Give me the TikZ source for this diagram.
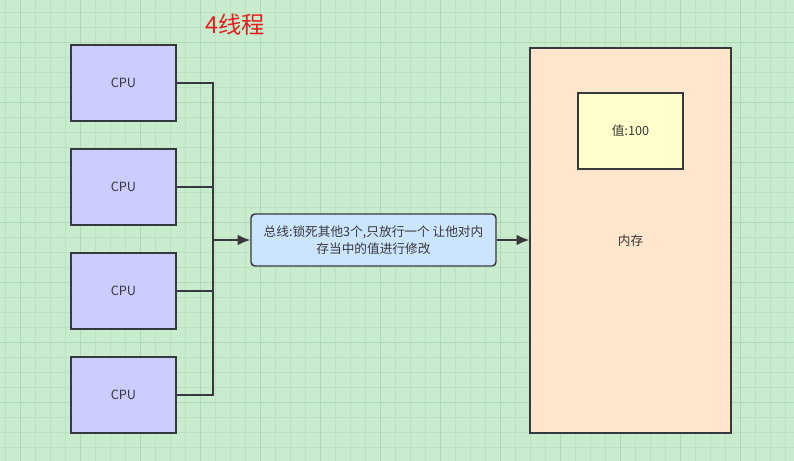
\documentclass[tikz,border=0pt]{standalone}
\usepackage{fontspec}
\setmainfont{Noto Sans CJK SC}
\usepackage{xcolor}
\usetikzlibrary{positioning, arrows.meta}

\definecolor{bgHijau}{RGB}{201,236,207}
\definecolor{gridHalus}{RGB}{188,226,194}
\definecolor{gridTegas}{RGB}{176,216,182}
\definecolor{garis}{RGB}{54,57,61}
\definecolor{isiCPU}{RGB}{204,204,255}
\definecolor{isiBus}{RGB}{204,229,255}
\definecolor{isiMem}{RGB}{255,230,204}
\definecolor{isiNilai}{RGB}{255,255,204}
\definecolor{merah}{RGB}{228,32,32}

\tikzset{
    kotak/.style={draw=garis, line width=1.1pt, text=black!78, font=\fontsize{9.5}{12.5}\selectfont, align=center, inner sep=0pt},
    cpubox/.style={kotak, fill=isiCPU, minimum width=78.75pt, minimum height=57pt},
    kabel/.style={draw=garis, line width=1.1pt}
}

\begin{document}
\begin{tikzpicture}[x=0.75pt, y=-0.75pt, >={Latex[length=9.5pt,width=8pt]}]
    \useasboundingbox (0,0) rectangle (794,461);

    % --- LAYER 1: LATAR DAN GRID ---
    \fill[bgHijau] (0,0) rectangle (794,461);
    \foreach \x in {5,20,...,794} {
        \draw[gridHalus, line width=0.6pt] (\x,0) -- (\x,461);
    }
    \foreach \y in {12,27,...,461} {
        \draw[gridHalus, line width=0.6pt] (0,\y) -- (794,\y);
    }
    \foreach \x in {20,80,...,794} {
        \draw[gridTegas, line width=0.7pt] (\x,0) -- (\x,461);
    }
    \foreach \y in {42,102,...,461} {
        \draw[gridTegas, line width=0.7pt] (0,\y) -- (794,\y);
    }

    % --- LAYER 2: JUDUL ---
    \node[merah, font=\fontsize{17.5}{20}\selectfont, inner sep=0pt] (judul) at (235,25) {4线程};

    % --- LAYER 3: CPU ---
    \foreach \i/\y in {1/83, 2/187, 3/291, 4/395} {
        \node[cpubox] (cpu\i) at (123.5,\y) {CPU};
    }

    % --- LAYER 4: BUS DAN MEMORI ---
    \node[kotak, fill=isiBus, rounded corners=3pt, minimum width=183.75pt, minimum height=39pt] (bus) at (373.5,240) {总线:锁死其他3个,只放行一个 让他对内\\存当中的值进行修改};
    \node[kotak, fill=isiMem, minimum width=150.75pt, minimum height=288.75pt] (mem) at (630.5,240.5) {内存};
    \node[kotak, fill=isiNilai, minimum width=78.75pt, minimum height=57pt] (nilai) at (630.5,131) {值:100};

    % --- LAYER 5: KONEKTOR ---
    \coordinate (sambung) at (213,240);
    \foreach \i in {1,...,4} {
        \draw[kabel] (cpu\i.east) -| (sambung);
    }
    \draw[kabel, ->] (sambung) -- (bus.west);
    \draw[kabel, ->] (bus.east) -- (bus.east -| mem.west);

\end{tikzpicture}
\end{document}
